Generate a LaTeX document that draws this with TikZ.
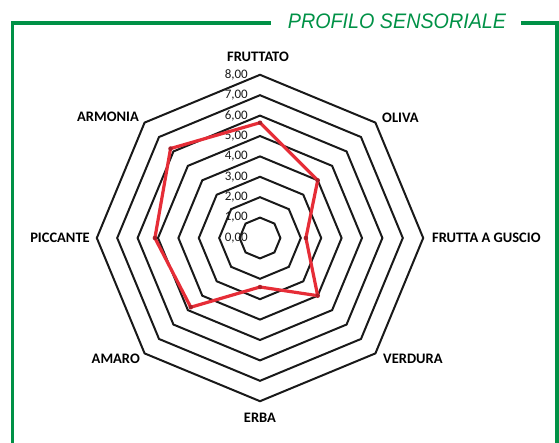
\documentclass[tikz,border=0pt]{standalone}
\usepackage{fontspec}
\usepackage{graphicx}
\setmainfont{Carlito}
\newfontfamily\titlefont{Liberation Sans}
\usetikzlibrary{calc}
\definecolor{framegreen}{RGB}{0,145,70}
\definecolor{datared}{RGB}{230,45,55}
\definecolor{markred}{RGB}{170,30,40}
\begin{document}
\begin{tikzpicture}[x=1pt,y=1pt,
  ring/.style={draw=black!90,line width=2pt,line join=miter},
  axislabel/.style={font=\bfseries\fontsize{14.5}{14.5}\selectfont,inner sep=0pt},
  ticklabel/.style={font=\fontsize{13}{13}\selectfont,inner sep=0pt,anchor=east,text=black!90},
  frameline/.style={draw=framegreen,line width=3.5pt},
  dataline/.style={draw=datared,line width=3.2pt,line join=round},
  marker/.style={circle,fill=markred,inner sep=0pt,minimum size=4.5pt}]
\useasboundingbox (0,0) rectangle (559,442);
\coordinate (C) at (260,204);
% rings
\foreach \k in {1,...,8}{
  \pgfmathsetmacro\r{20.4*\k}
  \draw[ring,shift={(260,204)}] (90:\r) -- (135:\r) -- (180:\r) -- (225:\r) -- (270:\r) -- (315:\r) -- (0:\r) -- (45:\r) -- cycle;
}
% tick labels
\foreach \k in {0,...,8}{
  \node[ticklabel] (t\k) at (248,{204+20.4*\k}) {\k,00};
}
% data points
\coordinate (d1) at ($(C)+(90:115.3)$);
\coordinate (d2) at ($(C)+(45:81.6)$);
\coordinate (d3) at ($(C)+(0:45.9)$);
\coordinate (d4) at ($(C)+(-45:81.6)$);
\coordinate (d5) at ($(C)+(-90:49)$);
\coordinate (d6) at ($(C)+(-135:97.9)$);
\coordinate (d7) at ($(C)+(180:105.1)$);
\coordinate (d8) at ($(C)+(135:126.5)$);
\draw[dataline] (d1) -- (d2) -- (d3) -- (d4) -- (d5) -- (d6) -- (d7) -- (d8) -- cycle;
\foreach \i in {1,...,8}{ \node[marker] (m\i) at (d\i) {}; }
% axis labels
\node[axislabel] (fruttato) at (258,385) {FRUTTATO};
\node[axislabel,anchor=west] (oliva) at (382,324) {OLIVA};
\node[axislabel,anchor=west] (guscio) at (432,204) {FRUTTA A GUSCIO};
\node[axislabel,anchor=west] (verdura) at (383,83) {VERDURA};
\node[axislabel] (erba) at (260,24) {ERBA};
\node[axislabel,anchor=east] (amaro) at (140,83) {AMARO};
\node[axislabel,anchor=east] (piccante) at (90,204) {PICCANTE};
\node[axislabel,anchor=east] (armonia) at (139,325) {ARMONIA};
% frame and title
\node[font=\titlefont\itshape\fontsize{21}{21}\selectfont,text=framegreen,inner sep=0pt] (title) at (397,421) {\scalebox{0.94}[1]{PROFILO SENSORIALE}};
\coordinate (fbl) at (12.5,-5);
\coordinate (ftl) at (12.5,419);
\coordinate (ft1) at (271,419);
\coordinate (ft2) at (521,419);
\coordinate (ftr) at (557,419);
\coordinate (fbr) at (557,-5);
\draw[frameline] (fbl) -- (ftl) -- (ft1);
\draw[frameline] (ft2) -- (ftr) -- (fbr);
\end{tikzpicture}
\end{document}
